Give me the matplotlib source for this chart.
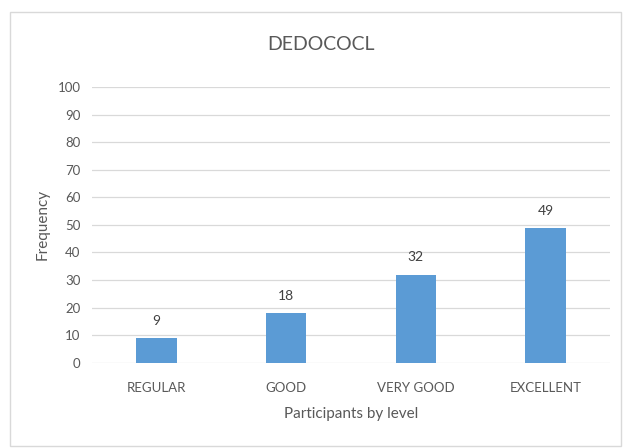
import matplotlib
matplotlib.use("Agg")
import matplotlib.pyplot as plt
from matplotlib.patches import Rectangle

categories = ["REGULAR", "GOOD", "VERY GOOD", "EXCELLENT"]
frequency = [9, 18, 32, 49]
yticks = list(range(0, 101, 10))

plt.rcParams["font.family"] = ["Lato", "DejaVu Sans"]
text_color = "#595959"

fig = plt.figure(figsize=(6.24, 4.48), dpi=100)
ax = fig.add_axes([0.147, 0.19, 0.831, 0.616])

x = range(len(categories))
bars = ax.bar(x, frequency, width=0.31, color="#5B9BD5", zorder=3)
for b, v in zip(bars, frequency):
    ax.annotate(str(v), (b.get_x() + b.get_width() / 2, v), xytext=(0, 8),
                textcoords="offset points", ha="center", va="bottom",
                fontsize=10, color="#404040")

ax.set_xlim(-0.5, len(categories) - 0.5)
ax.set_ylim(0, 100)
ax.set_yticks(yticks)
ax.set_xticks(list(x))
ax.set_xticklabels(categories)
ax.tick_params(length=0, labelsize=9.5, colors=text_color)
ax.tick_params(axis="x", pad=14)
ax.tick_params(axis="y", pad=8)
ax.grid(axis="y", color="#D9D9D9", linewidth=0.9, zorder=0)
for s in ax.spines.values():
    s.set_visible(False)

fig.text(321 / 624, 1 - 44 / 448, "DEDOCOCL", fontsize=14, color=text_color,
         ha="center", va="center")
ax.set_xlabel("Participants by level", fontsize=11, color=text_color, labelpad=9)
ax.set_ylabel("Frequency", fontsize=11, color=text_color, labelpad=6)

fig.patches.append(Rectangle((10 / 624, 2 / 448), 611 / 624, 434 / 448,
                             transform=fig.transFigure, fill=False,
                             edgecolor="#D9D9D9", linewidth=1))

fig.savefig("out.png", dpi=100)
